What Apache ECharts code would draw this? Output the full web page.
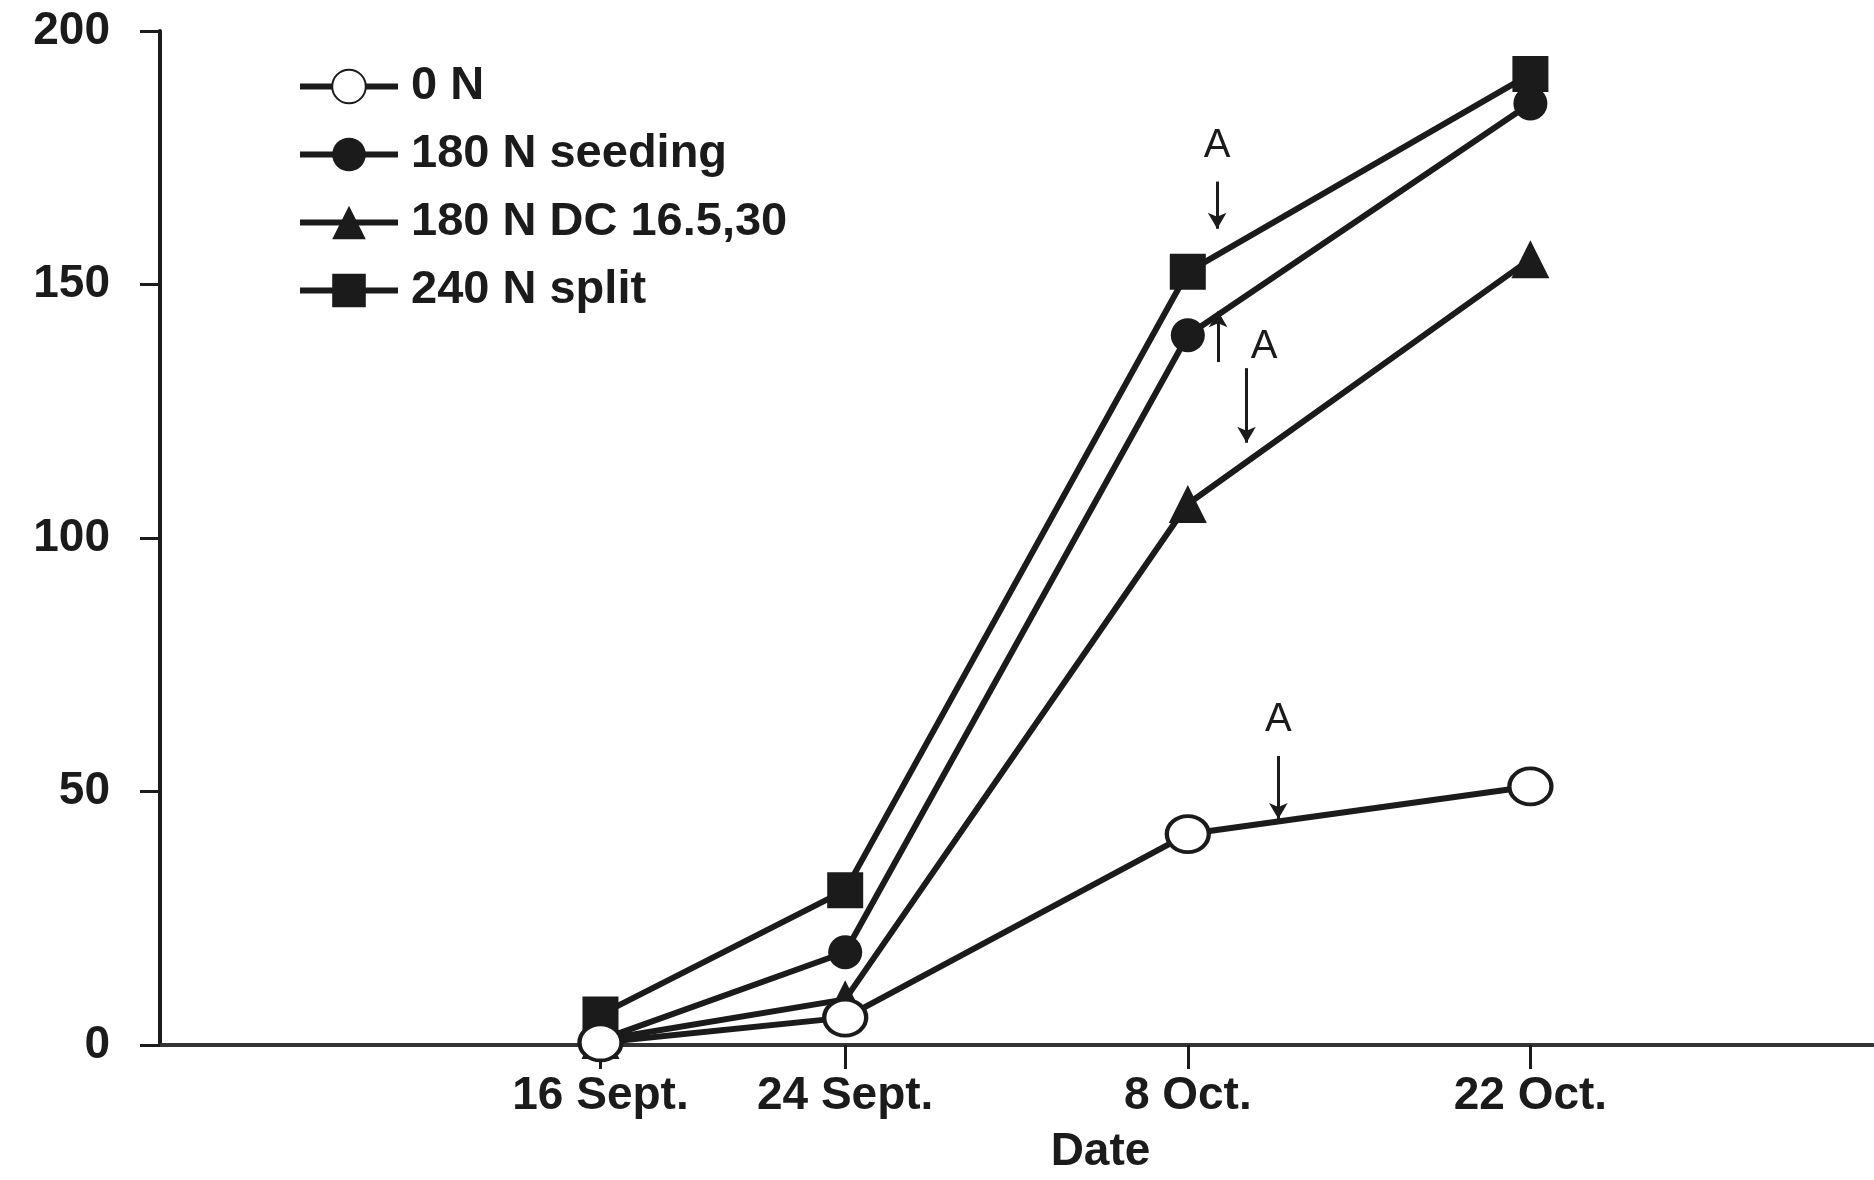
<!DOCTYPE html>
<html><head><meta charset="utf-8">
<script src="https://cdn.jsdelivr.net/npm/echarts@6/dist/echarts.min.js"></script>
<style>html,body{margin:0;padding:0;background:#fff}#c{width:1874px;height:1180px}</style>
</head><body><div id="c"></div>
<script>
// ---- data ----
const dates = ['16 Sept.', '24 Sept.', '8 Oct.', '22 Oct.'];
const dateSlots = [9, 14, 21, 28];           // axis slot of each sampling date
const yTicks = [0, 50, 100, 150, 200];
const seriesNames = ['0 N', '180 N seeding', '180 N DC 16.5,30', '240 N split'];
const n0 = [0.5, 5.4, 41.6, 51];
const n180seeding = [1, 18.3, 140, 185.7];
const n180dc = [1, 9, 106.7, 155];
const n240split = [6, 30.5, 152.5, 191.5];
// annotation arrows: [x slot, from value, to value]
const arrows = [[21.6, 170.3, 161], [21.62, 134.7, 144.7], [22.2, 133.5, 118.8], [22.85, 57, 44.6]];
const letters = [[21.6, 177.4], [22.56, 137.7], [22.85, 64.1]];

const ink = '#1b1b1b';
const font = 'Liberation Sans, Arial, sans-serif';
function pts(vals) { return vals.map((v, i) => [dateSlots[i], v]); }
const symbols = ['circle', 'circle', 'triangle', 'rect'];
const sizes = [[42, 36], 34, 38, 36];
const allVals = [n0, n180seeding, n180dc, n240split];

const series = allVals.map((vals, k) => ({
  name: seriesNames[k], type: 'line', data: pts(vals),
  symbol: symbols[k], symbolSize: sizes[k], showSymbol: true,
  lineStyle: { color: ink, width: 6 },
  itemStyle: { color: k === 0 ? '#fff' : ink, borderColor: ink, borderWidth: k === 0 ? 4 : 0 },
  z: k === 0 ? 5 : 3 + k * 0.1,
  animation: false
}));
series[3].markLine = {
  silent: true, animation: false, symbol: ['none', 'arrow'], symbolSize: [14, 16],
  lineStyle: { color: ink, width: 3, type: 'solid' }, label: { show: false },
  data: arrows.map(a => [{ coord: [a[0], a[1]] }, { coord: [a[0], a[2]] }])
};
series[3].markPoint = {
  silent: true, animation: false, symbol: 'circle', symbolSize: 0,
  label: { show: true, formatter: 'A', color: ink, fontSize: 40, fontFamily: font, position: 'inside' },
  data: letters.map(l => ({ coord: [l[0], l[1]] }))
};

const chart = echarts.init(document.getElementById('c'));
chart.setOption({
  backgroundColor: '#fff',
  animation: false,
  grid: { left: 160, right: 1, top: 31, bottom: 130 },
  legend: {
    orient: 'vertical', left: 292, top: 58, itemWidth: 98, itemHeight: 42, itemGap: 21,
    lineStyle: { width: 6, color: ink },
    textStyle: { color: ink, fontSize: 47, fontFamily: font, fontWeight: 'bold', padding: [0, 0, 0, 8] },
    data: seriesNames
  },
  xAxis: {
    type: 'value', min: 0, max: 35,
    name: 'Date', nameLocation: 'middle', nameGap: 84,
    nameTextStyle: { color: ink, fontSize: 46, fontWeight: 'bold', fontFamily: font, padding: [0, 0, 0, 168] },
    axisLine: { show: true, onZero: false, lineStyle: { color: '#333', width: 4 } },
    axisTick: { show: true, customValues: dateSlots, length: 24, lineStyle: { color: ink, width: 3 } },
    axisLabel: {
      customValues: dateSlots, margin: 28, color: ink, fontSize: 46, fontWeight: 'bold', fontFamily: font,
      formatter: v => dates[dateSlots.indexOf(v)] || ''
    },
    splitLine: { show: false }
  },
  yAxis: {
    type: 'value', min: 0, max: 200, interval: 50,
    axisLine: { show: true, lineStyle: { color: ink, width: 4 } },
    axisTick: { show: true, length: 20, lineStyle: { color: ink, width: 3 } },
    axisLabel: { margin: 50, color: ink, fontSize: 46, fontWeight: 'bold', fontFamily: font,
      formatter: v => yTicks.includes(v) ? String(v) : '' },
    splitLine: { show: false }
  },
  series: series
});
</script></body></html>
